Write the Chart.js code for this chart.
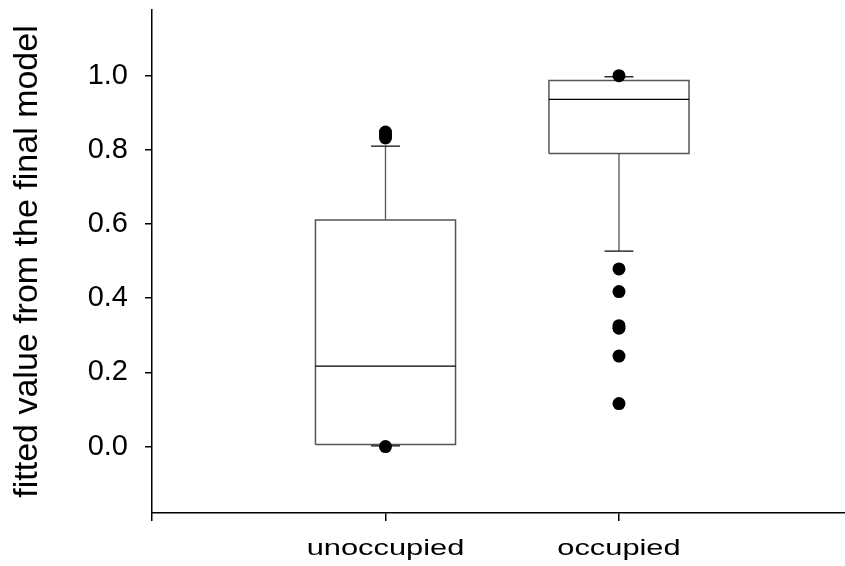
<!DOCTYPE html>
<html>
<head>
<meta charset="utf-8">
<script src="https://cdn.jsdelivr.net/npm/chart.js@4"></script>
<style>
  body { margin: 0; background: #fff; }
  canvas { display: block; }
</style>
</head>
<body>
<canvas id="boxChart" width="845" height="566"></canvas>
<script>
// data
const categories = ['unoccupied', 'occupied'];
const q1 = [0.006, 0.790];
const median = [0.217, 0.936];
const q3 = [0.611, 0.987];
const whiskerLow = [0.002, 0.527];
const whiskerHigh = [0.810, 0.997];
const outliers = [
    [0.0, 0.832, 0.840, 0.848],
    [1.0, 0.479, 0.418, 0.326, 0.319, 0.244, 0.116]
];
const yTicks = [0, 0.2, 0.4, 0.6, 0.8, 1.0];

// box / cap half widths, in category units
const BOX_HALF = 0.3;
const CAP_HALF = 0.062;

const FONT = '"Liberation Sans", Arial, sans-serif';

function seg(x1, y1, x2, y2, color, width) {
    return {
        data: [{ x: x1, y: y1 }, { x: x2, y: y2 }],
        showLine: true,
        pointRadius: 0,
        borderColor: color,
        borderWidth: width,
        fill: false
    };
}

const datasets = [];

// outliers first so they sit on top
const outlierPts = [];
outliers.forEach((vals, i) => vals.forEach(v => outlierPts.push({ x: i, y: v })));
datasets.push({
    data: outlierPts,
    pointRadius: 6.5,
    pointBackgroundColor: '#000',
    pointBorderColor: '#000',
    pointBorderWidth: 0,
    showLine: false
});

categories.forEach((c, i) => {
    // caps
    datasets.push(seg(i - CAP_HALF, whiskerHigh[i], i + CAP_HALF, whiskerHigh[i], '#111', 1.3));
    datasets.push(seg(i - CAP_HALF, whiskerLow[i], i + CAP_HALF, whiskerLow[i], '#111', 1.3));
    // whiskers
    datasets.push(seg(i, q3[i], i, whiskerHigh[i], '#555', 1.3));
    datasets.push(seg(i, q1[i], i, whiskerLow[i], '#555', 1.3));
    // median
    datasets.push(seg(i - BOX_HALF, median[i], i + BOX_HALF, median[i], '#000', 1.2));
    // box outline
    datasets.push({
        data: [
            { x: i - BOX_HALF, y: q1[i] },
            { x: i + BOX_HALF, y: q1[i] },
            { x: i + BOX_HALF, y: q3[i] },
            { x: i - BOX_HALF, y: q3[i] },
            { x: i - BOX_HALF, y: q1[i] }
        ],
        showLine: true,
        pointRadius: 0,
        borderColor: '#555',
        borderWidth: 1.5,
        fill: false,
        tension: 0
    });
});

// x category labels, drawn a little wider like the original
const categoryLabels = {
    id: 'categoryLabels',
    afterDraw(chart) {
        const ctx = chart.ctx;
        const xs = chart.scales.x;
        ctx.save();
        ctx.font = '22px ' + FONT;
        ctx.fillStyle = '#000';
        ctx.textAlign = 'center';
        ctx.textBaseline = 'alphabetic';
        categories.forEach((c, i) => {
            ctx.save();
            ctx.translate(xs.getPixelForValue(i), chart.chartArea.bottom + 42);
            ctx.scale(1.4, 1);
            ctx.fillText(c, 0, 0);
            ctx.restore();
        });
        ctx.restore();
    }
};

const ctx = document.getElementById('boxChart').getContext('2d');
const chart = new Chart(ctx, {
    type: 'scatter',
    data: { datasets: datasets },
    plugins: [categoryLabels],
    options: {
        responsive: false,
        animation: false,
        layout: { autoPadding: false, padding: { top: 10, right: 0, bottom: 0, left: 0 } },
        plugins: {
            legend: { display: false },
            tooltip: { enabled: false }
        },
        scales: {
            x: {
                type: 'linear',
                min: -1,
                max: 1.968,
                afterBuildTicks: s => { s.ticks = [-1, 0, 1].map(v => ({ value: v })); },
                afterFit: s => { s.height = 53; s.paddingLeft = 0; s.paddingRight = 0; },
                ticks: { display: false },
                grid: { drawOnChartArea: false, drawTicks: true, tickLength: 8, color: '#000', lineWidth: 1.5 },
                border: { display: true, color: '#000', width: 1.5 }
            },
            y: {
                min: -0.179,
                max: 1.177,
                afterBuildTicks: s => { s.ticks = yTicks.map(v => ({ value: v })); },
                afterFit: s => { s.width = 152; s.paddingTop = 0; s.paddingBottom = 0; },
                ticks: {
                    padding: 17,
                    color: '#000',
                    font: { family: FONT, size: 29 },
                    callback: v => v.toFixed(1)
                },
                grid: { drawOnChartArea: false, drawTicks: true, tickLength: 7, color: '#000', lineWidth: 1.5 },
                border: { display: true, color: '#000', width: 1.5 },
                title: {
                    display: true,
                    text: 'fitted value from the final model',
                    color: '#000',
                    font: { family: FONT, size: 34 },
                    padding: { top: 7, bottom: 0 }
                }
            }
        }
    }
});
</script>
</body>
</html>
